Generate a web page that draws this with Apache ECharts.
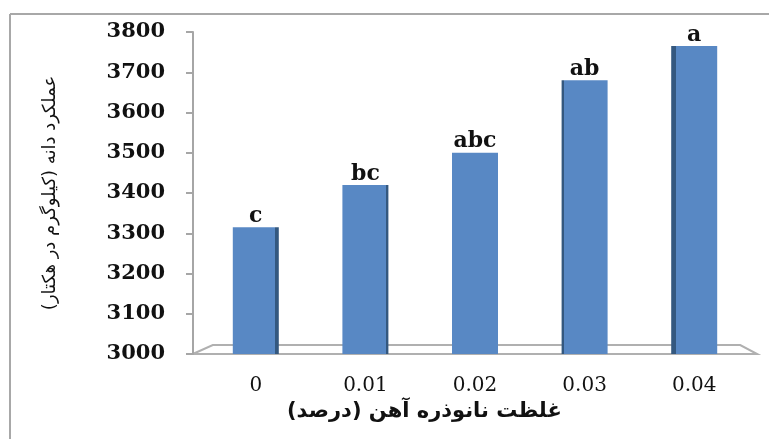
<!DOCTYPE html>
<html>
<head>
<meta charset="utf-8">
<script src="https://cdn.jsdelivr.net/npm/echarts@6/dist/echarts.min.js"></script>
<style>
  html, body { margin: 0; padding: 0; background: #fff; }
  #chart { width: 769px; height: 439px; }
</style>
</head>
<body>
<div id="chart"></div>
<script>
// غلظت نانوذره آهن (درصد)
var levels = ['0', '0.01', '0.02', '0.03', '0.04'];
var grainYield = [3315, 3420, 3500, 3680, 3765];
var groups = ['c', 'bc', 'abc', 'ab', 'a'];
var yTicks = [3000, 3100, 3200, 3300, 3400, 3500, 3600, 3700, 3800];

var barFace = '#5888c4';
var barSide = '#34587f';

// side shading like the excel 3d columns: dark strip right on the left bars, left on the right bars
function barColor(i) {
  var side = [0.09, 0.05, 0, 0.05, 0.1][i];
  var stops;
  if (i < 2) {
    stops = [{offset: 0, color: barFace}, {offset: 1 - side, color: barFace},
             {offset: 1 - side, color: barSide}, {offset: 1, color: barSide}];
  } else if (i > 2) {
    stops = [{offset: 0, color: barSide}, {offset: side, color: barSide},
             {offset: side, color: barFace}, {offset: 1, color: barFace}];
  } else {
    return barFace;
  }
  return new echarts.graphic.LinearGradient(0, 0, 1, 0, stops);
}

var chart = echarts.init(document.getElementById('chart'));

var frame = [
  { type: 'line', shape: { x1: 10, y1: 14, x2: 769, y2: 14 }, style: { stroke: '#a8a8a8', lineWidth: 2 } },
  { type: 'line', shape: { x1: 10, y1: 14, x2: 10, y2: 439 }, style: { stroke: '#a8a8a8', lineWidth: 2 } },
  {
    type: 'text', left: 287, top: 401,
    style: { text: 'غلظت نانوذره آهن (درصد)', fontFamily: 'DejaVu Sans', fontSize: 21, fontWeight: 'bold', fill: '#111' }
  }
];

var option = {
  animation: false,
  grid: { left: 201, right: 20, top: 32, bottom: 85 },
  xAxis: {
    type: 'category',
    data: levels,
    axisLine: { show: false },
    axisTick: { show: false },
    axisLabel: { margin: 22, fontFamily: 'DejaVu Serif', fontSize: 20, color: '#111' }
  },
  yAxis: {
    type: 'value',
    min: yTicks[0],
    max: yTicks[yTicks.length - 1],
    interval: 100,
    offset: 8,
    name: 'عملکرد دانه (کیلوگرم در هکتار)',
    nameLocation: 'middle',
    nameRotate: 90,
    nameGap: 134,
    nameTextStyle: { fontFamily: 'DejaVu Sans', fontSize: 18, color: '#111' },
    splitLine: { show: false },
    axisLine: { show: true, lineStyle: { color: '#a6a6a6', width: 2 } },
    axisTick: { show: true, length: 7, lineStyle: { color: '#a6a6a6', width: 2 } },
    axisLabel: {
      margin: 28, fontFamily: 'DejaVu Serif', fontWeight: 'bold', fontSize: 21, color: '#111',
      formatter: function (v) { return String(v); }
    }
  },
  series: [{
    type: 'bar',
    barWidth: 46,
    data: grainYield.map(function (v, i) {
      return { value: v, itemStyle: { color: barColor(i) } };
    }),
    label: {
      show: true,
      position: 'top',
      distance: 0,
      fontFamily: 'DejaVu Serif',
      fontWeight: 'bold',
      fontSize: 22,
      color: '#111',
      formatter: function (p) { return groups[p.dataIndex]; }
    }
  }],
  graphic: frame
};
chart.setOption(option);

// floor of the 3d plot, taken from the axis scale
var base = chart.convertToPixel({ yAxisIndex: 0 }, yTicks[0]);
var first = chart.convertToPixel({ xAxisIndex: 0 }, 0);
var last = chart.convertToPixel({ xAxisIndex: 0 }, levels.length - 1);
chart.setOption({
  graphic: frame.concat([{
    type: 'polygon', z: -1,
    shape: { points: [[first - 63, base], [first - 43, base - 9], [last + 46, base - 9], [last + 63, base]] },
    style: { stroke: '#b0b0b0', lineWidth: 2, fill: '#fff' }
  }])
});
</script>
</body>
</html>
